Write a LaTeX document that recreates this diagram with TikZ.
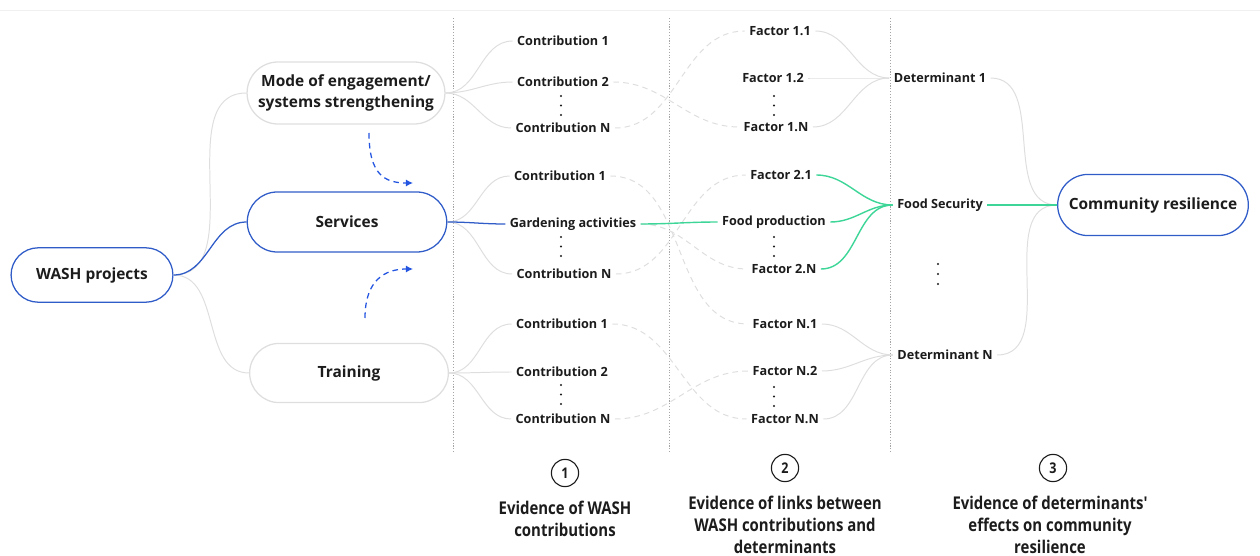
\documentclass[tikz,border=0pt]{standalone}
\usepackage{fontspec}
\setmainfont{Open Sans}
\newfontfamily\narrowfont[FakeStretch=0.85]{Open Sans}
\usetikzlibrary{arrows.meta, shapes.misc}
\definecolor{washblue}{RGB}{48,92,200}
\definecolor{arrowblue}{RGB}{35,85,225}
\definecolor{foodgreen}{RGB}{62,214,152}
\definecolor{linkgrey}{RGB}{222,222,222}
\definecolor{sepgrey}{RGB}{165,165,165}
\definecolor{textblack}{RGB}{28,28,28}
\tikzstyle{link} = [draw=linkgrey, line width=0.7pt]
\tikzstyle{crosslink} = [link, dash pattern=on 4pt off 3pt]

\begin{document}
\begin{tikzpicture}[x=0.025cm, y=-0.025cm,
    >={Latex[length=5pt,width=5pt]},   % arrow tips
    font=\fontsize{9}{11}\selectfont\bfseries, text=textblack,
    pill/.style={draw=#1, line width=0.9pt, rounded rectangle, align=center,
        font=\fontsize{11}{15}\selectfont\bfseries},
    item/.style={inner sep=3pt},
    greenlink/.style={draw=foodgreen, line width=1pt},
    bluelink/.style={draw=washblue, line width=0.9pt},
    sep/.style={draw=sepgrey, line width=0.5pt, dash pattern=on 0.8pt off 1.2pt},
    evidence/.style={align=center, font=\narrowfont\fontsize{12.5}{15.6}\selectfont\bfseries}]
  \useasboundingbox (0,0) rectangle (1260,556);
  \draw[black!6, line width=0.6pt] (0,10) -- (1260,10);
  % column separators
  \foreach \x in {453,669,890} \draw[sep] (\x,18) -- (\x,452);

  % main boxes
  \node[pill=washblue, minimum width=4.28cm, minimum height=1.36cm] (wash) at (92,275) {WASH projects};
  \node[pill=linkgrey, minimum width=5.18cm, minimum height=1.55cm] (mode) at (346,93) {Mode of engagement/\\systems strengthening};
  \node[pill=washblue, minimum width=5.22cm, minimum height=1.5cm] (services) at (347,222) {Services};
  \node[pill=linkgrey, minimum width=5.2cm, minimum height=1.48cm] (training) at (349,373) {Training};
  \node[pill=washblue, minimum width=5.0cm, minimum height=1.53cm] (resil) at (1153,205) {Community resilience};

  % contributions
  \foreach \name/\x/\y/\txt in {c1a/563/41/Contribution 1, c1b/563/82/Contribution 2, c1n/563/128/Contribution N,
      c2a/560/176/Contribution 1, garden/573/224/Gardening activities, c2n/564/274/Contribution N,
      c3a/562/324/Contribution 1, c3b/562/372/Contribution 2, c3n/563/419/Contribution N}
    \node[item] (\name) at (\x,\y) {\txt};
  % factors
  \foreach \name/\x/\y/\txt in {f11/780/31/Factor 1.1, f12/773/78/Factor 1.2, f1n/776/127/Factor 1.N,
      f21/781/175/Factor 2.1, foodprod/774/222/Food production, f2n/784/269/Factor 2.N,
      fn1/785/324/Factor N.1, fn2/785/371/Factor N.2, fnn/785/419/Factor N.N}
    \node[item] (\name) at (\x,\y) {\txt};
  % determinants
  \node[item] (det1) at (940,78) {Determinant 1};
  \node[item] (foodsec) at (940,205) {Food Security};
  \node[item] (detn) at (945,355) {Determinant N};

  % dots
  \foreach \x/\y in {561/96, 561/237, 561/385, 774/96, 774/237, 774/387}
    \foreach \d in {0,9.5,19} \fill[textblack] (\x,\y+\d) circle (1.1);
  \foreach \d in {0,10,20} \fill[textblack] (938,264+\d) circle (1.1);

  % WASH projects -> themes
  \draw[link] (wash.east) to[out=0,in=180] (mode.west);
  \draw[link] (wash.east) to[out=0,in=180] (training.west);
  \draw[bluelink] (wash.east) to[out=0,in=180] (services.west);
  \foreach \a/\b in {mode/c1a, mode/c1b, mode/c1n, services/c2a, services/c2n, training/c3a, training/c3b, training/c3n}
    \draw[link] (\a.east) to[out=0,in=180] (\b.west);
  \draw[bluelink] (services.east) to[out=0,in=180] (garden.west);

  % contributions -> factors
  \foreach \a/\b in {c1b/f1n, c1n/f11, c2a/fn1, garden/f2n, c2n/f21, c3a/fnn, c3n/fn2}
    \draw[crosslink] (\a.east) to[out=0,in=180] (\b.west);
  \draw[greenlink] (garden.east) to[out=0,in=180] (foodprod.west);

  % factors -> determinants
  \foreach \a/\b in {f11/det1, f12/det1, f1n/det1, fn1/detn, fn2/detn, fnn/detn}
    \draw[link] (\a.east) to[out=0,in=180] (\b.west);
  \foreach \a in {f21, foodprod, f2n}
    \draw[greenlink] (\a.east) to[out=0,in=180] (foodsec.west);

  % determinants -> resilience
  \draw[link] (det1.east) to[out=0,in=180] (resil.west);
  \draw[link] (detn.east) to[out=0,in=180] (resil.west);
  \draw[greenlink] (foodsec.east) -- (resil.west);

  % dashed hints
  \coordinate (hintA) at (369,133);
  \coordinate (hintAend) at (413,183);
  \coordinate (hintB) at (365,318);
  \coordinate (hintBend) at (413,269);
  \draw[arrowblue, line width=0.9pt, dash pattern=on 4pt off 3pt, ->] (hintA) .. controls (369,175) and (385,183) .. (hintAend);
  \draw[arrowblue, line width=0.9pt, dash pattern=on 4pt off 3pt, ->] (hintB) .. controls (365,280) and (385,269) .. (hintBend);

  % evidence labels
  \foreach \n/\x/\y in {1/565/473, 2/785/468, 3/1053/468}
    \node[draw=textblack, circle, line width=0.8pt, minimum size=0.68cm, inner sep=0pt,
      font=\narrowfont\fontsize{10.5}{12}\selectfont\bfseries] (num\n) at (\x,\y) {\n};
  \node[evidence] (ev1) at (565,519) {Evidence of WASH\\contributions};
  \node[evidence] (ev2) at (785,525) {Evidence of links between\\WASH contributions and\\determinants};
  \node[evidence] (ev3) at (1050,525) {Evidence of determinants'\\effects on community\\resilience};
\end{tikzpicture}
\end{document}
